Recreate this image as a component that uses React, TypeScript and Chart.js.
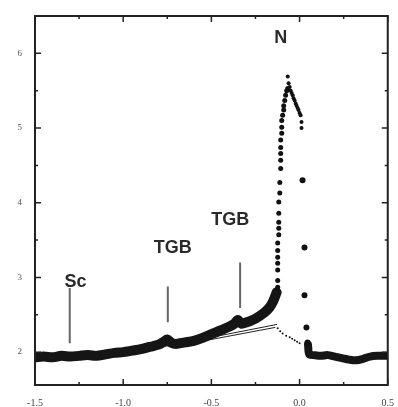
import React, { useEffect, useRef } from "react";
import { Chart, registerables } from "chart.js";

Chart.register(...registerables);

// axis ticks
const xTickValues = [-1.5, -1.0, -0.5, 0.0, 0.5];
const xTickLabels = ["-1.5", "-1.0", "-0.5", "0.0", "0.5"];
const yTickValues = [2, 3, 4, 5, 6];
const yTickLabels = ["2", "3", "4", "5", "6"];

// thick low-temperature band (Sc -> TGB -> N approach)
const bandX = [-1.5, -1.45, -1.4, -1.35, -1.3, -1.25, -1.2, -1.15, -1.1, -1.05, -1.0, -0.95, -0.9, -0.85, -0.8, -0.77, -0.75, -0.73, -0.7, -0.65, -0.6, -0.55, -0.5, -0.45, -0.4, -0.37, -0.35, -0.33, -0.3, -0.25, -0.2, -0.17, -0.15, -0.13];
const bandY = [1.93, 1.94, 1.93, 1.95, 1.94, 1.95, 1.96, 1.95, 1.97, 1.99, 2.0, 2.02, 2.04, 2.07, 2.1, 2.14, 2.17, 2.13, 2.11, 2.13, 2.15, 2.19, 2.24, 2.29, 2.34, 2.38, 2.43, 2.38, 2.4, 2.45, 2.53, 2.6, 2.68, 2.8];

// steep rise toward the N peak
const riseX = [-0.124, -0.124, -0.124, -0.124, -0.124, -0.124, -0.124, -0.118, -0.118, -0.118, -0.118, -0.118, -0.112, -0.112, -0.107, -0.107, -0.107, -0.107, -0.107, -0.101, -0.101, -0.101, -0.096, -0.09, -0.09, -0.084, -0.079, -0.073, -0.067];
const riseY = [2.87, 2.96, 3.1, 3.19, 3.27, 3.36, 3.46, 3.57, 3.66, 3.74, 3.86, 4.01, 4.13, 4.27, 4.46, 4.57, 4.66, 4.74, 4.84, 4.93, 5.01, 5.1, 5.17, 5.24, 5.3, 5.37, 5.44, 5.5, 5.53];

// peak cluster and descent just above the transition
const peakX = [-0.067, -0.062, -0.056, -0.05, -0.045, -0.039, -0.034, -0.028, -0.022, -0.017, -0.011, -0.006, 0.0, 0.006, 0.011, 0.011];
const peakY = [5.69, 5.6, 5.55, 5.5, 5.47, 5.44, 5.4, 5.37, 5.33, 5.3, 5.27, 5.24, 5.2, 5.17, 5.08, 5.0];

// isolated points on the high-temperature side
const dropX = [0.017, 0.028, 0.028, 0.039, 0.045];
const dropY = [4.3, 3.4, 2.76, 2.33, 2.13];

// high-temperature baseline band
const highX = [0.048, 0.055, 0.08, 0.12, 0.16, 0.2, 0.24, 0.28, 0.32, 0.36, 0.4, 0.44, 0.49];
const highY = [2.1, 1.97, 1.96, 1.95, 1.96, 1.94, 1.92, 1.9, 1.89, 1.91, 1.94, 1.95, 1.95];

// dotted background extrapolation
const bgX = [-0.124, -0.11, -0.096, -0.076, -0.056, -0.042, -0.028, -0.014, 0.0];
const bgY = [2.32, 2.28, 2.25, 2.22, 2.2, 2.18, 2.16, 2.14, 2.12];

// thin fit lines under the band
const fitAX = [-0.8, -0.13];
const fitAY = [2.06, 2.37];
const fitBX = [-0.5, -0.14];
const fitBY = [2.17, 2.33];

// marker lines for transitions
const markScX = [-1.303, -1.303];
const markScY = [2.12, 2.86];
const markT1X = [-0.747, -0.747];
const markT1Y = [2.4, 2.88];
const markT2X = [-0.337, -0.337];
const markT2Y = [2.59, 3.2];

// phase labels
const labelText = ["N", "TGB", "TGB", "Sc"];
const labelX = [-0.107, -0.719, -0.393, -1.27];
const labelY = [6.21, 3.4, 3.77, 2.94];

const pts = (xs: number[], ys: number[]) => xs.map((x, i) => ({ x, y: ys[i] }));

const framePlugin = {
  id: "frame",
  afterDatasetsDraw(chart: any) {
    const { ctx, chartArea: a, scales } = chart;
    const xs = scales.x;
    const ys = scales.y;
    ctx.save();
    // texts
    ctx.fillStyle = "#2a2a2a";
    ctx.font = "bold 18px 'Liberation Sans', Arial, sans-serif";
    ctx.textAlign = "center";
    ctx.textBaseline = "middle";
    labelText.forEach((t, i) => {
      ctx.fillText(t, xs.getPixelForValue(labelX[i]), ys.getPixelForValue(labelY[i]));
    });
    // frame
    ctx.strokeStyle = "#222";
    ctx.lineWidth = 2;
    ctx.strokeRect(a.left, a.top, a.right - a.left, a.bottom - a.top);
    ctx.lineWidth = 1.5;
    // x ticks every 0.25
    for (let v = -1.5; v <= 0.5001; v += 0.25) {
      const px = xs.getPixelForValue(v);
      const major = Math.abs(v * 2 - Math.round(v * 2)) < 1e-6;
      const len = major ? 6 : 3;
      ctx.beginPath();
      ctx.moveTo(px, a.bottom);
      ctx.lineTo(px, a.bottom - len);
      ctx.moveTo(px, a.top);
      ctx.lineTo(px, a.top + len);
      ctx.stroke();
    }
    // y ticks every 0.5
    for (let v = 2; v <= 6.0001; v += 0.5) {
      const py = ys.getPixelForValue(v);
      const major = Math.abs(v - Math.round(v)) < 1e-6;
      const len = major ? 6 : 3;
      ctx.beginPath();
      ctx.moveTo(a.left, py);
      ctx.lineTo(a.left + len, py);
      ctx.moveTo(a.right, py);
      ctx.lineTo(a.right - len, py);
      ctx.stroke();
    }
    ctx.restore();
  },
};

export default function App() {
  const ref = useRef<HTMLCanvasElement | null>(null);
  useEffect(() => {
    if (!ref.current) return;
    const lineDs = (data: any[], width: number, color: string) => ({
      data,
      showLine: true,
      borderColor: color,
      backgroundColor: color,
      borderWidth: width,
      pointRadius: 0,
      tension: 0.3,
      borderCapStyle: "round",
      borderJoinStyle: "round",
    });
    const dotDs = (data: any[], r: number) => ({
      data,
      showLine: false,
      pointRadius: r,
      pointBackgroundColor: "#111",
      pointBorderColor: "#111",
      pointBorderWidth: 0,
    });
    const chart = new Chart(ref.current, {
      type: "scatter",
      data: {
        datasets: [
          dotDs(pts(riseX, riseY), 2.5),
          dotDs(pts(peakX, peakY), 2),
          dotDs(pts(dropX, dropY), 3),
          dotDs(pts(bgX, bgY), 1),
          lineDs(pts(bandX, bandY), 10, "#151515"),
          lineDs(pts(highX, highY), 8, "#151515"),
          lineDs(pts(fitAX, fitAY), 1, "#222"),
          lineDs(pts(fitBX, fitBY), 1, "#222"),
          { ...lineDs(pts(markScX, markScY), 2, "#666"), tension: 0, borderCapStyle: "butt" },
          { ...lineDs(pts(markT1X, markT1Y), 2, "#666"), tension: 0, borderCapStyle: "butt" },
          { ...lineDs(pts(markT2X, markT2Y), 2, "#666"), tension: 0, borderCapStyle: "butt" },
        ] as any,
      },
      options: {
        animation: false,
        responsive: false,
        maintainAspectRatio: false,
        layout: { padding: { top: 16, right: 3, bottom: 0, left: 0 } },
        plugins: { legend: { display: false }, tooltip: { enabled: false } },
        scales: {
          x: {
            type: "linear",
            min: -1.5,
            max: 0.5,
            grid: { display: false },
            border: { display: false },
            afterBuildTicks: (s: any) => {
              s.ticks = xTickValues.map((v) => ({ value: v }));
            },
            afterFit: (s: any) => {
              s.height = 22;
            },
            ticks: {
              padding: 4,
              color: "#444",
              font: { family: "'Liberation Serif', 'DejaVu Serif', serif", size: 10 },
              callback: (v: any) => {
                const i = xTickValues.findIndex((t) => Math.abs(t - v) < 1e-6);
                return i >= 0 ? xTickLabels[i] : "";
              },
              maxRotation: 0,
            },
          },
          y: {
            type: "linear",
            min: 1.56,
            max: 6.5,
            grid: { display: false },
            border: { display: false },
            afterBuildTicks: (s: any) => {
              s.ticks = yTickValues.map((v) => ({ value: v }));
            },
            afterFit: (s: any) => {
              s.width = 35;
            },
            ticks: {
              padding: 5,
              color: "#555",
              font: { family: "'Liberation Serif', 'DejaVu Serif', serif", size: 9 },
              callback: (v: any) => {
                const i = yTickValues.findIndex((t) => Math.abs(t - v) < 1e-6);
                return i >= 0 ? yTickLabels[i] : "";
              },
            },
          },
        },
      },
      plugins: [framePlugin],
    } as any);
    return () => chart.destroy();
  }, []);
  return (
    <div style={{ position: "fixed", left: 0, top: 0, width: 398, height: 407, background: "#fff" }}>
      <canvas ref={ref} width={398} height={407} style={{ width: 398, height: 407, display: "block" }} />
    </div>
  );
}
